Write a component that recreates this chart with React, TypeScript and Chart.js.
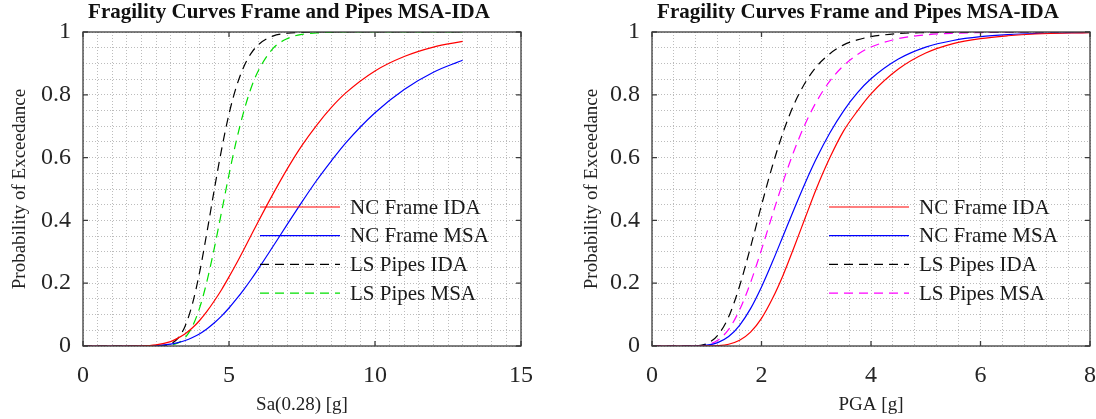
import React, { useEffect, useRef } from "react";
import { Chart, registerables } from "chart.js";

Chart.register(...registerables);

// ---------- Data ----------
const titleText = "Fragility Curves Frame and Pipes MSA-IDA";
const yAxisTitle = "Probability of Exceedance";

// Left panel: Sa(0.28) [g]
const saX = [0, 1, 2, 2.5, 3, 3.25, 3.5, 3.75, 4, 4.25, 4.5, 4.75, 5, 5.25, 5.5, 5.75, 6, 6.5, 7, 7.5, 8, 8.5, 9, 10, 11, 12, 13];
const saNCFrameIDA = [0, 0, 0.0005, 0.0035, 0.014, 0.025, 0.039, 0.058, 0.082, 0.111, 0.144, 0.18, 0.22, 0.262, 0.306, 0.351, 0.396, 0.483, 0.565, 0.639, 0.703, 0.759, 0.806, 0.876, 0.922, 0.952, 0.97];
const saNCFrameMSA = [0, 0, 0.0001, 0.0014, 0.006, 0.011, 0.0175, 0.027, 0.039, 0.055, 0.074, 0.096, 0.121, 0.149, 0.179, 0.211, 0.245, 0.316, 0.388, 0.459, 0.527, 0.589, 0.647, 0.743, 0.817, 0.872, 0.91];
const saLSPipesIDA = [0, 0, 0, 0.0002, 0.007, 0.024, 0.064, 0.135, 0.238, 0.365, 0.5, 0.628, 0.739, 0.825, 0.888, 0.931, 0.959, 0.987, 0.996, 0.999, 1, 1, 1, 1, 1, 1, 1];
const saLSPipesMSA = [0, 0, 0, 0.0001, 0.0025, 0.0095, 0.027, 0.063, 0.123, 0.208, 0.313, 0.429, 0.546, 0.653, 0.745, 0.82, 0.876, 0.947, 0.979, 0.9925, 0.997, 0.999, 1, 1, 1, 1, 1];
const saXTicks = [0, 5, 10, 15];

// Right panel: PGA [g]
const pgaX = [0, 0.5, 0.8, 1, 1.2, 1.4, 1.6, 1.8, 2, 2.2, 2.4, 2.6, 2.8, 3, 3.25, 3.5, 3.75, 4, 4.5, 5, 5.5, 6, 6.5, 7, 8];
const pgaNCFrameIDA = [0, 0, 0, 0.0001, 0.0011, 0.0055, 0.018, 0.044, 0.088, 0.151, 0.228, 0.317, 0.409, 0.5, 0.6, 0.685, 0.748, 0.803, 0.882, 0.933, 0.963, 0.979, 0.988, 0.9936, 0.998];
const pgaNCFrameMSA = [0, 0, 0.0003, 0.0025, 0.0107, 0.03, 0.066, 0.119, 0.188, 0.268, 0.353, 0.438, 0.52, 0.596, 0.679, 0.749, 0.806, 0.851, 0.914, 0.952, 0.973, 0.985, 0.9916, 0.9953, 0.9985];
const pgaLSPipesIDA = [0, 0, 0.0007, 0.0073, 0.034, 0.093, 0.191, 0.315, 0.448, 0.574, 0.683, 0.772, 0.839, 0.889, 0.931, 0.959, 0.975, 0.985, 0.995, 0.998, 0.9994, 1, 1, 1, 1];
const pgaLSPipesMSA = [0, 0, 0.0004, 0.0038, 0.018, 0.053, 0.115, 0.202, 0.307, 0.418, 0.526, 0.624, 0.708, 0.777, 0.844, 0.893, 0.928, 0.952, 0.979, 0.991, 0.996, 0.998, 0.9993, 1, 1];
const pgaXTicks = [0, 2, 4, 6, 8];

const yTicks = [0, 0.2, 0.4, 0.6, 0.8, 1];

const seriesLabels = ["NC Frame IDA", "NC Frame MSA", "LS Pipes IDA", "LS Pipes MSA"];

type Series = { label: string; data: number[]; color: string; dash: number[] };

type PanelProps = {
  xs: number[];
  series: Series[];
  xMax: number;
  xMinorStep: number;
  xTicks: number[];
  xTitle: string;
  yAxisWidth: number;
  rightPad: number;
  yLabelX: number;
};

const SERIF = "'Liberation Serif', 'DejaVu Serif', serif";
const DASH = [9, 6];

const leftSeries: Series[] = [
  { label: seriesLabels[0], data: saNCFrameIDA, color: "#ff0000", dash: [] },
  { label: seriesLabels[1], data: saNCFrameMSA, color: "#0000ff", dash: [] },
  { label: seriesLabels[2], data: saLSPipesIDA, color: "#000000", dash: DASH },
  { label: seriesLabels[3], data: saLSPipesMSA, color: "#00e000", dash: DASH },
];
const rightSeries: Series[] = [
  { label: seriesLabels[0], data: pgaNCFrameIDA, color: "#ff0000", dash: [] },
  { label: seriesLabels[1], data: pgaNCFrameMSA, color: "#0000ff", dash: [] },
  { label: seriesLabels[2], data: pgaLSPipesIDA, color: "#000000", dash: DASH },
  { label: seriesLabels[3], data: pgaLSPipesMSA, color: "#ff00ff", dash: DASH },
];

function isOnList(v: number, list: number[]) {
  return list.some((t) => Math.abs(t - v) < 1e-6);
}

function Panel(props: PanelProps) {
  const ref = useRef<HTMLCanvasElement | null>(null);
  useEffect(() => {
    const canvas = ref.current;
    if (!canvas) return;

    const decorPlugin = {
      id: "matlabDecor",
      afterDatasetsDraw(chart: any) {
        const { ctx, chartArea } = chart;
        const xs = chart.scales.x;
        const ys = chart.scales.y;
        const { left, right, top, bottom } = chartArea;
        ctx.save();
        // box
        ctx.strokeStyle = "#3c3c3c";
        ctx.lineWidth = 1.3;
        ctx.setLineDash([]);
        ctx.strokeRect(left, top, right - left, bottom - top);
        // inward ticks
        const tl = 5;
        ctx.beginPath();
        props.xTicks.forEach((t) => {
          const px = xs.getPixelForValue(t);
          ctx.moveTo(px, bottom);
          ctx.lineTo(px, bottom - tl);
          ctx.moveTo(px, top);
          ctx.lineTo(px, top + tl);
        });
        yTicks.forEach((t) => {
          const py = ys.getPixelForValue(t);
          ctx.moveTo(left, py);
          ctx.lineTo(left + tl, py);
          ctx.moveTo(right, py);
          ctx.lineTo(right - tl, py);
        });
        ctx.stroke();

        // legend (no box)
        const rowGap = 28.7;
        const lx0 = left + 177;
        const lx1 = left + 257;
        const tx = left + 267;
        ctx.font = `21px ${SERIF}`;
        ctx.textBaseline = "middle";
        ctx.textAlign = "left";
        chart.data.datasets.forEach((ds: any, i: number) => {
          const y = top + 175 + i * rowGap;
          ctx.beginPath();
          ctx.strokeStyle = ds.borderColor;
          ctx.lineWidth = 1.2;
          ctx.setLineDash(ds.borderDash || []);
          ctx.moveTo(lx0, y);
          ctx.lineTo(lx1, y);
          ctx.stroke();
          ctx.setLineDash([]);
          ctx.fillStyle = "#1a1a1a";
          ctx.fillText(ds.label, tx, y + 1);
        });

        // title
        ctx.font = `bold 21px ${SERIF}`;
        ctx.textAlign = "center";
        ctx.textBaseline = "middle";
        ctx.fillStyle = "#111";
        ctx.fillText(titleText, (left + right) / 2 - 13, 13);

        // x title
        ctx.font = `19px ${SERIF}`;
        ctx.fillStyle = "#222";
        ctx.fillText(props.xTitle, (left + right) / 2, 405);

        // y title
        ctx.save();
        ctx.translate(props.yLabelX, (top + bottom) / 2);
        ctx.rotate(-Math.PI / 2);
        ctx.fillText(yAxisTitle, 0, 0);
        ctx.restore();

        ctx.restore();
      },
    };

    const chart = new Chart(canvas, {
      type: "line",
      data: {
        datasets: props.series.map((s) => ({
          label: s.label,
          data: props.xs.map((x, i) => ({ x, y: s.data[i] })),
          borderColor: s.color,
          backgroundColor: s.color,
          borderDash: s.dash,
          borderWidth: 1.2,
          pointRadius: 0,
          fill: false,
          cubicInterpolationMode: "monotone" as const,
        })),
      },
      options: {
        responsive: false,
        animation: false,
        events: [],
        layout: { padding: { top: 32, right: props.rightPad, left: 0, bottom: 0 } },
        plugins: {
          legend: { display: false },
          title: { display: false },
          tooltip: { enabled: false },
        },
        scales: {
          x: {
            type: "linear",
            min: 0,
            max: props.xMax,
            afterFit: (scale: any) => {
              scale.height = 73;
              scale.paddingLeft = 0;
              scale.paddingRight = 0;
            },
            ticks: {
              stepSize: props.xMinorStep,
              autoSkip: false,
              maxRotation: 0,
              padding: 15,
              color: "#262626",
              font: { family: SERIF, size: 24 },
              callback: (v: any) => (isOnList(Number(v), props.xTicks) ? String(Math.round(Number(v))) : ""),
            },
            grid: { color: "#bcbcbc", lineWidth: 1, drawTicks: false },
            border: { display: false, dash: [1, 2] },
          },
          y: {
            type: "linear",
            min: 0,
            max: 1,
            afterFit: (scale: any) => {
              scale.width = props.yAxisWidth;
              scale.paddingTop = 0;
              scale.paddingBottom = 0;
            },
            ticks: {
              stepSize: 0.05,
              autoSkip: false,
              padding: 12,
              color: "#262626",
              font: { family: SERIF, size: 24 },
              callback: (v: any) => {
                const n = Number(v);
                return isOnList(n, yTicks) ? String(Math.round(n * 10) / 10) : "";
              },
            },
            grid: { color: "#bcbcbc", lineWidth: 1, drawTicks: false },
            border: { display: false, dash: [1, 2] },
          },
        },
      },
      plugins: [decorPlugin],
    } as any);
    return () => chart.destroy();
  }, []);
  return <canvas ref={ref} width={548} height={419} style={{ display: "block", width: 548, height: 419 }} />;
}

export default function App() {
  return (
    <div style={{ position: "absolute", left: 0, top: 0, width: 1096, height: 419, background: "#fff", display: "flex" }}>
      <Panel
        xs={saX}
        series={leftSeries}
        xMax={15}
        xMinorStep={0.5}
        xTicks={saXTicks}
        xTitle="Sa(0.28) [g]"
        yAxisWidth={83}
        rightPad={27}
        yLabelX={20}
      />
      <Panel
        xs={pgaX}
        series={rightSeries}
        xMax={8}
        xMinorStep={0.4}
        xTicks={pgaXTicks}
        xTitle="PGA [g]"
        yAxisWidth={104}
        rightPad={6}
        yLabelX={44}
      />
    </div>
  );
}
